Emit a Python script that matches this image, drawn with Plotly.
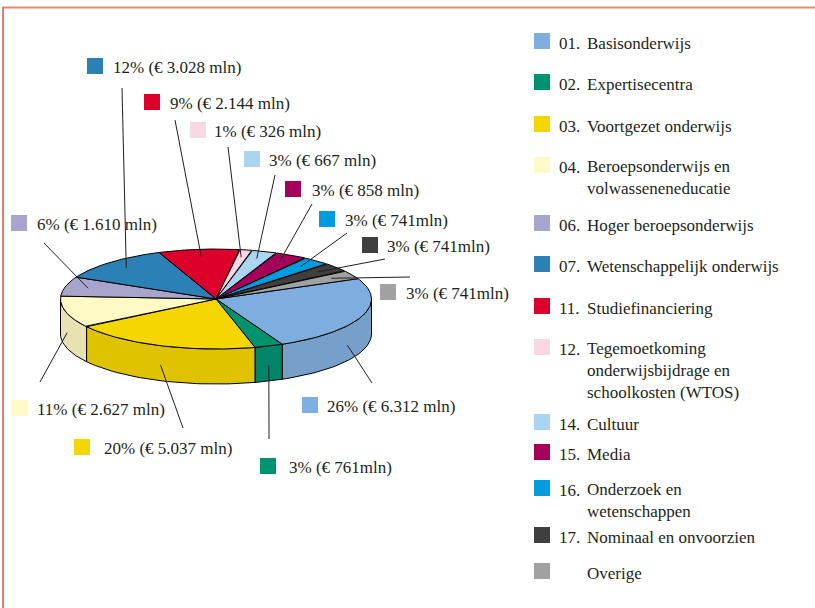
import numpy as np
import plotly.graph_objects as go

# begroting OCW per artikel
CODES = ['01.', '02.', '03.', '04.', '06.', '07.', '11.', '12.', '14.', '15.', '16.', '17.', '']
NAMES = ['Basisonderwijs', 'Expertisecentra', 'Voortgezet onderwijs',
         'Beroepsonderwijs en<br>volwasseneneducatie', 'Hoger beroepsonderwijs',
         'Wetenschappelijk onderwijs', 'Studiefinanciering',
         'Tegemoetkoming<br>onderwijsbijdrage en<br>schoolkosten (WTOS)',
         'Cultuur', 'Media', 'Onderzoek en<br>wetenschappen',
         'Nominaal en onvoorzien', 'Overige']
AMOUNTS = [6312, 761, 5037, 2627, 1610, 3028, 2144, 326, 667, 858, 741, 741, 741]
LABELS = ['26% (€ 6.312 mln)', '3% (€ 761mln)', '20% (€ 5.037 mln)', '11% (€ 2.627 mln)',
          '6% (€ 1.610 mln)', '12% (€ 3.028 mln)', '9% (€ 2.144 mln)', '1% (€ 326 mln)',
          '3% (€ 667 mln)', '3% (€ 858 mln)', '3% (€ 741mln)', '3% (€ 741mln)',
          '3% (€ 741mln)']
COLORS = ['#7eaedf', '#00936f', '#f5d600', '#fff9c6', '#a7a4cd', '#2b80b6', '#dc002b',
          '#fbd7e4', '#a9d5f1', '#a5005a', '#009dde', '#3f3f3f', '#a1a1a1']
SIDE_COLORS = ['#76a0c9', '#00846a', '#dfc300', '#e8e2b2']

# layout (pixels, y downwards)
CX, CY, RX, RY, DEPTH = 216, 299, 155.5, 50, 35
START = 24
LABEL_SQ = [(310, 405), (268, 466), (82, 447), (20, 408), (19, 223), (95, 66), (152, 102),
            (198, 130), (252, 159), (293, 189), (327, 219), (370, 245), (388, 292)]
LABEL_DX = [15, 19, 20, 15, 16, 16, 16, 14, 15, 17, 16, 15, 16]
LEAD_END = [(372, 383), (269, 439), (183, 428), (40, 382), (44, 243), (122, 88), (175, 120),
            (228, 147), (275, 175), (312, 204), (347, 233), (385, 259), (410, 277)]
LEG_Y = [41, 82, 124, 165, 223, 264, 306, 347, 422, 452, 488, 535, 571]
FONT = dict(family='Liberation Serif', size=17, color='#231f20')


def rim(t_deg, dy=0.0, r=1.0):
    t = np.radians(t_deg)
    return CX + r * RX * np.cos(t), CY - r * RY * np.sin(t) + dy


fig = go.Figure()
vals = np.array(AMOUNTS, dtype=float)
cum = np.concatenate([[0], np.cumsum(vals)]) / vals.sum() * 360
t_hi = START - cum[:-1]
t_lo = START - cum[1:]

# zijkanten (alleen voorkant zichtbaar)
inner_pts = []
for i in range(len(vals)):
    lo, hi = max(t_lo[i], -180), min(t_hi[i], 0)
    if hi > lo:
        ts = np.linspace(lo, hi, 40)
        xt, yt = rim(ts)
        xb, yb = rim(ts[::-1], DEPTH)
        fig.add_trace(go.Scatter(x=np.concatenate([xt, xb, xt[:1]]), y=np.concatenate([yt, yb, yt[:1]]),
                                 fill='toself', fillcolor=SIDE_COLORS[i], mode='lines',
                                 line=dict(color='black', width=1), hoverinfo='skip', showlegend=False))
    if hi - lo > 5:
        inner_pts.append(rim((lo + hi) / 2, DEPTH * 0.55))
    else:
        inner_pts.append(rim((t_lo[i] + t_hi[i]) / 2, r=0.85))

# bovenkant
for i in range(len(vals)):
    ts = np.linspace(t_hi[i], t_lo[i], 60)
    xs, ys = rim(ts)
    fig.add_trace(go.Scatter(x=np.concatenate([[CX], xs, [CX]]), y=np.concatenate([[CY], ys, [CY]]),
                             fill='toself', fillcolor=COLORS[i], mode='lines',
                             line=dict(color='black', width=1), hoverinfo='skip', showlegend=False))

shapes = []
annotations = []
for i in range(len(vals)):
    (x0, y0), (x1, y1) = inner_pts[i], LEAD_END[i]
    shapes.append(dict(type='line', x0=x0, y0=y0, x1=x1, y1=y1, line=dict(color='#231f20', width=1)))
    sx, sy = LABEL_SQ[i]
    shapes.append(dict(type='rect', x0=sx - 8, x1=sx + 8, y0=sy - 8, y1=sy + 8,
                       fillcolor=COLORS[i], line=dict(width=0)))
    annotations.append(dict(x=sx + LABEL_DX[i], y=sy + 1, text=LABELS[i], showarrow=False,
                            xanchor='left', yanchor='middle', font=FONT))

# legenda
for i in range(len(NAMES)):
    y = LEG_Y[i]
    shapes.append(dict(type='rect', x0=534, x1=550, y0=y - 8, y1=y + 8,
                       fillcolor=COLORS[i], line=dict(width=0)))
    n = NAMES[i].count('<br>')
    if CODES[i]:
        annotations.append(dict(x=557, y=y + 2, text=CODES[i], showarrow=False,
                                xanchor='left', yanchor='middle', font=FONT))
    annotations.append(dict(x=585, y=y + 2 + n * 10.9, text=NAMES[i], showarrow=False,
                            xanchor='left', yanchor='middle', align='left', font=FONT))

# kader
shapes.append(dict(type='line', x0=3, x1=815, y0=7.5, y1=7.5, line=dict(color='#f08472', width=2)))
shapes.append(dict(type='line', x0=3, x1=3, y0=7, y1=608, line=dict(color='#e5503a', width=1.5)))

fig.update_layout(width=815, height=608, margin=dict(l=0, r=0, t=0, b=0),
                  paper_bgcolor='white', plot_bgcolor='white', showlegend=False,
                  xaxis=dict(range=[0, 815], visible=False, fixedrange=True),
                  yaxis=dict(range=[608, 0], visible=False, fixedrange=True),
                  shapes=shapes, annotations=annotations)

fig.write_html('out.html', config={'displayModeBar': False},
               post_script="document.body.style.margin='0';document.body.style.overflow='hidden';")
